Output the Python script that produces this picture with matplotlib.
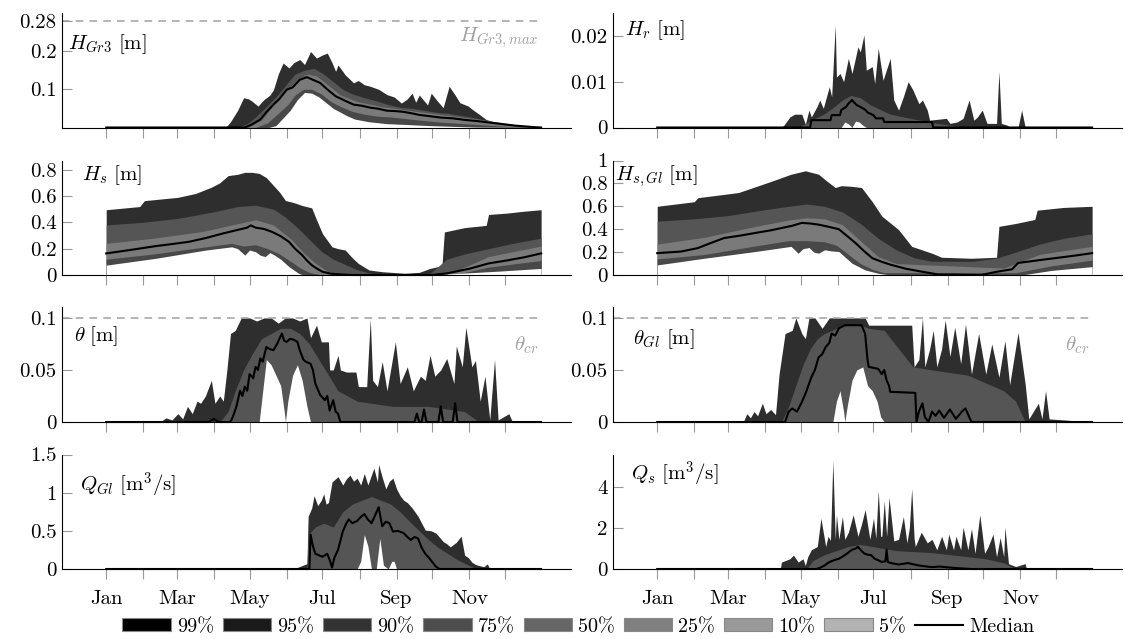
import numpy as np
import matplotlib
matplotlib.use('Agg')
import matplotlib.pyplot as plt
from matplotlib.patches import Patch
from matplotlib.lines import Line2D
from matplotlib.ticker import FuncFormatter

plt.rcParams['font.family'] = 'cmr10'
plt.rcParams['mathtext.fontset'] = 'cm'
plt.rcParams['axes.unicode_minus'] = False

# month starts (day of year) and tick labels
month_days = [0, 31, 59, 90, 120, 151, 181, 212, 243, 273, 304, 334]
month_labels = ['Jan', '', 'Mar', '', 'May', '', 'Jul', '', 'Sep', '', 'Nov', '']

# legend
band_names = ['99%', '95%', '90%', '75%', '50%', '25%', '10%', '5%']
band_colors = ['#000000', '#1a1a1a', '#333333', '#4d4d4d', '#666666', '#808080', '#999999', '#b3b3b3']

# ---- H_Gr3 ----
hgr3_up_day = [0, 100, 104, 110, 115, 119, 122, 127, 132, 137, 140, 144, 148, 153, 157, 162, 166, 171, 176, 181,
               185, 189, 192, 194, 200, 207, 211, 216, 221, 228, 235, 241, 247, 252, 256, 259, 262, 266, 269, 272,
               277, 282, 287, 292, 296, 303, 307, 312, 318, 325, 332, 340, 346, 355, 364]
hgr3_up = [0, 0, 0.015, 0.045, 0.078, 0.075, 0.069, 0.056, 0.073, 0.085, 0.099, 0.14, 0.169, 0.156, 0.17, 0.178,
           0.165, 0.199, 0.182, 0.19, 0.195, 0.17, 0.147, 0.164, 0.138, 0.117, 0.123, 0.112, 0.108, 0.1,
           0.086, 0.08, 0.064, 0.075, 0.09, 0.066, 0.085, 0.07, 0.059, 0.09, 0.07, 0.052, 0.108, 0.085, 0.065,
           0.056, 0.046, 0.035, 0.021, 0.014, 0.008, 0.005, 0.003, 0.001, 0]
hgr3_hi_day = [0, 110, 118, 126, 134, 142, 150, 158, 166, 174, 182, 190, 198, 206, 216, 226, 236, 246, 256, 266,
               276, 286, 296, 306, 316, 326, 336, 346, 356, 364]
hgr3_hi = [0, 0, 0.01, 0.03, 0.055, 0.08, 0.11, 0.14, 0.15, 0.155, 0.14, 0.12, 0.1, 0.088, 0.078, 0.07, 0.06,
           0.053, 0.05, 0.045, 0.04, 0.037, 0.032, 0.027, 0.02, 0.013, 0.008, 0.005, 0.002, 0]
hgr3_core_day = [0, 118, 130, 140, 150, 160, 168, 176, 186, 196, 210, 230, 260, 290, 320, 350, 364]
hgr3_core = [0, 0, 0.02, 0.06, 0.095, 0.125, 0.14, 0.135, 0.11, 0.085, 0.068, 0.055, 0.042, 0.03, 0.018, 0.004, 0]
hgr3_med_day = [0, 116, 122, 129, 134, 140, 145, 151, 156, 162, 168, 173, 179, 185, 192, 200, 207, 214, 221, 228,
                235, 242, 249, 256, 262, 270, 280, 290, 300, 310, 318, 326, 334, 342, 350, 358, 364]
hgr3_med = [0, 0, 0.008, 0.021, 0.04, 0.06, 0.075, 0.099, 0.105, 0.125, 0.132, 0.125, 0.117, 0.1, 0.082, 0.07,
            0.06, 0.057, 0.052, 0.049, 0.044, 0.043, 0.041, 0.037, 0.033, 0.03, 0.026, 0.024, 0.02, 0.017,
            0.014, 0.011, 0.008, 0.005, 0.003, 0.001, 0]
hgr3_loin_day = [0, 125, 135, 145, 152, 158, 165, 172, 180, 188, 196, 206, 216, 226, 240, 260, 280, 300, 320, 340, 364]
hgr3_loin = [0, 0, 0.012, 0.04, 0.06, 0.085, 0.1, 0.1, 0.088, 0.068, 0.055, 0.042, 0.035, 0.03, 0.027, 0.02,
             0.014, 0.01, 0.006, 0.002, 0]
hgr3_lo_day = [0, 136, 142, 148, 154, 160, 166, 172, 178, 184, 190, 196, 202, 208, 220, 235, 250, 270, 290, 310, 364]
hgr3_lo = [0, 0, 0.005, 0.025, 0.045, 0.073, 0.092, 0.09, 0.08, 0.065, 0.05, 0.04, 0.03, 0.022, 0.015, 0.01,
           0.008, 0.005, 0.003, 0.001, 0]

# ---- H_r ----
hr_up_day = [0, 104, 106, 111, 115, 121, 124, 127, 129, 134, 136, 139, 144, 146, 149, 150, 153, 156, 160, 163,
             168, 170, 173, 175, 180, 182, 185, 189, 195, 198, 202, 206, 210, 214, 219, 222, 226, 228, 242, 245,
             251, 256, 261, 265, 268, 272, 276, 284, 286, 288, 293, 295, 302, 305, 308, 364]
hr_up = [0, 0, 0.0005, 0.0023, 0.0029, 0.0029, 0.0007, 0.0038, 0.0023, 0.0047, 0.006, 0.0042, 0.0089, 0.0067,
         0.0224, 0.011, 0.0118, 0.01, 0.0151, 0.0118, 0.0176, 0.0165, 0.0202, 0.0125, 0.0133, 0.0096, 0.0173,
         0.0103, 0.0151, 0.006, 0.0038, 0.0067, 0.01, 0.0082, 0.0052, 0.006, 0.0038, 0.0016, 0.002, 0.0009,
         0.0012, 0.002, 0.006, 0.0016, 0.0023, 0.0038, 0.0009, 0.0009, 0.0122, 0.0009, 0.0005, 0, 0, 0.0038, 0, 0]
hr_hi_day = [0, 118, 125, 132, 140, 148, 155, 162, 170, 178, 186, 194, 202, 212, 222, 232, 245, 260, 364]
hr_hi = [0, 0, 0.001, 0.002, 0.003, 0.0045, 0.006, 0.007, 0.0065, 0.005, 0.004, 0.003, 0.0025, 0.002, 0.0015,
         0.001, 0.0005, 0, 0]
hr_med_day = [0, 128, 129, 145, 146, 153, 154, 158, 160, 163, 165, 167, 170, 174, 176, 181, 183, 189, 190, 195,
              196, 230, 231, 364]
hr_med = [0, 0, 0.0016, 0.0016, 0.0027, 0.0027, 0.0038, 0.0045, 0.0052, 0.006, 0.0054, 0.0049, 0.0045, 0.0039,
          0.0033, 0.0027, 0.002, 0.002, 0.0012, 0.0012, 0.0012, 0.0012, 0, 0]
hr_lo_day = [0, 154, 157, 160, 163, 166, 169, 172, 175, 364]
hr_lo = [0, 0, 0.0012, 0.0008, 0, 0.0014, 0.0012, 0.0005, 0, 0]

# ---- H_s ----
hs_up_day = [0, 28, 32, 60, 75, 88, 95, 102, 110, 116, 122, 128, 134, 139, 145, 150, 157, 164, 172, 176,
             181, 189, 194, 200, 206, 211, 216, 220, 231, 250, 262, 271, 281, 283, 300, 318, 320, 335, 350, 364]
hs_up = [0.496, 0.52, 0.565, 0.59, 0.62, 0.667, 0.7, 0.755, 0.765, 0.78, 0.78, 0.772, 0.74, 0.69, 0.63, 0.566,
         0.55, 0.528, 0.51, 0.42, 0.314, 0.214, 0.2, 0.19, 0.13, 0.088, 0.06, 0.038, 0.025, 0.013,
         0.02, 0.05, 0.07, 0.327, 0.36, 0.377, 0.46, 0.47, 0.485, 0.496]
hs_hi_day = [0, 30, 60, 90, 110, 125, 140, 150, 160, 170, 180, 190, 200, 210, 220, 230, 270, 285, 300, 320, 340, 364]
hs_hi = [0.38, 0.4, 0.43, 0.48, 0.52, 0.53, 0.5, 0.44, 0.36, 0.27, 0.18, 0.12, 0.08, 0.04, 0.015, 0.005,
         0.005, 0.12, 0.16, 0.2, 0.24, 0.28]
hs_core_day = [0, 40, 80, 110, 125, 140, 155, 165, 175, 185, 195, 280, 295, 320, 364]
hs_core = [0.24, 0.28, 0.33, 0.39, 0.42, 0.38, 0.27, 0.17, 0.09, 0.03, 0, 0, 0.04, 0.14, 0.22]
hs_med_day = [0, 20, 41, 55, 69, 83, 97, 111, 118, 121, 125, 132, 139, 146, 153, 158, 164, 168, 172, 177,
              181, 188, 195, 205, 272, 285, 292, 305, 320, 335, 350, 364]
hs_med = [0.164, 0.19, 0.219, 0.235, 0.252, 0.28, 0.314, 0.345, 0.36, 0.377, 0.36, 0.35, 0.327, 0.295, 0.252,
          0.2, 0.151, 0.11, 0.075, 0.045, 0.025, 0.01, 0.005, 0, 0, 0.012, 0.025, 0.05, 0.088, 0.11, 0.135, 0.164]
hs_loin_day = [0, 40, 80, 105, 115, 125, 135, 145, 155, 163, 170, 180, 290, 320, 364]
hs_loin = [0.12, 0.16, 0.21, 0.24, 0.22, 0.23, 0.2, 0.16, 0.1, 0.05, 0.02, 0, 0, 0.06, 0.11]
hs_lo_day = [0, 41, 83, 105, 110, 116, 120, 125, 129, 133, 137, 141, 146, 153, 161, 165, 272, 300, 330, 364]
hs_lo = [0.075, 0.126, 0.189, 0.214, 0.2, 0.151, 0.19, 0.176, 0.15, 0.14, 0.17, 0.15, 0.12, 0.063, 0.013, 0,
         0, 0.015, 0.03, 0.05]

# ---- H_s,Gl ----
hsgl_up_day = [0, 31, 34, 68, 96, 112, 124, 135, 142, 149, 154, 162, 171, 180, 188, 202, 213, 230, 238, 263,
               284, 286, 300, 316, 318, 340, 364]
hsgl_up = [0.6, 0.64, 0.675, 0.72, 0.82, 0.88, 0.91, 0.88, 0.82, 0.764, 0.78, 0.775, 0.764, 0.64, 0.514, 0.396,
           0.25, 0.19, 0.155, 0.146, 0.155, 0.425, 0.45, 0.485, 0.566, 0.59, 0.6]
hsgl_hi_day = [0, 30, 60, 90, 110, 125, 140, 155, 170, 185, 200, 215, 230, 265, 285, 300, 320, 340, 364]
hsgl_hi = [0.47, 0.49, 0.52, 0.57, 0.6, 0.62, 0.6, 0.55, 0.45, 0.32, 0.22, 0.15, 0.12, 0.12, 0.15, 0.2, 0.27,
           0.32, 0.36]
hsgl_core_day = [0, 40, 80, 110, 125, 140, 155, 170, 185, 200, 290, 320, 364]
hsgl_core = [0.27, 0.33, 0.42, 0.48, 0.5, 0.49, 0.44, 0.3, 0.16, 0.1, 0.06, 0.18, 0.25]
hsgl_med_day = [0, 20, 34, 45, 56, 70, 82, 95, 104, 113, 121, 128, 135, 144, 152, 159, 166, 173, 180, 188,
                196, 208, 221, 235, 271, 285, 297, 302, 320, 335, 350, 364]
hsgl_med = [0.191, 0.205, 0.235, 0.28, 0.323, 0.345, 0.367, 0.39, 0.41, 0.43, 0.455, 0.45, 0.44, 0.42, 0.4,
            0.34, 0.279, 0.21, 0.147, 0.115, 0.088, 0.055, 0.03, 0.005, 0, 0.03, 0.05, 0.105, 0.13, 0.15, 0.17, 0.191]
hsgl_loin_day = [0, 40, 80, 110, 125, 140, 150, 160, 170, 180, 190, 300, 330, 364]
hsgl_loin = [0.14, 0.18, 0.25, 0.3, 0.3, 0.29, 0.26, 0.18, 0.1, 0.05, 0.02, 0.02, 0.08, 0.13]
hsgl_lo_day = [0, 40, 82, 112, 118, 122, 127, 131, 135, 140, 146, 152, 163, 174, 185, 195, 305, 330, 364]
hsgl_lo = [0.088, 0.147, 0.205, 0.25, 0.19, 0.23, 0.24, 0.2, 0.19, 0.22, 0.21, 0.205, 0.103, 0.044, 0.015, 0,
           0, 0.04, 0.073]

# ---- theta ----
theta_up_day = [0, 45, 50, 55, 60, 64, 68, 72, 76, 79, 83, 88, 91, 95, 98, 101, 104, 108, 113, 120,
                126, 132, 138, 144, 150, 156, 162, 168, 171, 176, 180, 186, 187, 190, 194, 196, 201, 209, 211, 218,
                221, 223, 227, 231, 235, 242, 246, 252, 257, 263, 267, 271, 275, 280, 285, 291, 293, 298, 301, 306,
                309, 313, 317, 321, 325, 328, 337, 340, 364]
theta_up = [0, 0, 0.004, 0.002, 0.008, 0.003, 0.015, 0.008, 0.02, 0.018, 0.025, 0.04, 0.018, 0.025, 0.02, 0.05,
            0.085, 0.088, 0.1, 0.1, 0.097, 0.1, 0.1, 0.095, 0.1, 0.1, 0.097, 0.1, 0.081, 0.093,
            0.077, 0.077, 0.05, 0.05, 0.064, 0.05, 0.048, 0.048, 0.034, 0.034, 0.099, 0.04, 0.034, 0.058, 0.03,
            0.077, 0.037, 0.053, 0.03, 0.044, 0.04, 0.064, 0.044, 0.05, 0.061, 0.037, 0.073, 0.053, 0.091, 0.053,
            0.059, 0.02, 0.044, 0.002, 0.06, 0.002, 0.008, 0, 0]
theta_hi_day = [0, 95, 102, 108, 115, 122, 130, 138, 146, 154, 162, 170, 178, 186, 194, 210, 240, 270, 300, 312, 364]
theta_hi = [0, 0, 0.01, 0.03, 0.05, 0.065, 0.08, 0.085, 0.09, 0.09, 0.085, 0.075, 0.06, 0.045, 0.03, 0.02,
            0.015, 0.015, 0.01, 0, 0]
theta_med_day = [0, 86, 90, 94, 104, 106, 109, 112, 114, 116, 118, 120, 123, 125, 127, 129, 131, 134, 137, 140,
                 143, 147, 149, 151, 154, 157, 160, 162, 165, 167, 171, 173, 175, 179, 183, 185, 187, 190, 192, 194,
                 196, 258, 260, 262, 264, 266, 268, 278, 280, 282, 290, 292, 294, 364]
theta_med = [0, 0, 0.003, 0, 0, 0.005, 0.015, 0.03, 0.025, 0.034, 0.03, 0.046, 0.042, 0.053, 0.05, 0.061, 0.058,
             0.072, 0.07, 0.069, 0.075, 0.085, 0.078, 0.077, 0.08, 0.079, 0.077, 0.069, 0.06, 0.058, 0.056, 0.05,
             0.037, 0.026, 0.021, 0.025, 0.011, 0.021, 0.01, 0.008, 0, 0, 0.008, 0, 0, 0.012, 0, 0, 0.015, 0,
             0, 0.018, 0, 0]
theta_lo_day = [0, 128, 131, 134, 138, 142, 146, 149, 150, 152, 156, 160, 164, 168, 171, 364]
theta_lo = [0, 0, 0.03, 0.06, 0.055, 0.045, 0.035, 0.01, 0, 0.02, 0.045, 0.055, 0.04, 0.015, 0, 0]

# ---- theta_Gl ----
thgl_up_day = [0, 72, 75, 78, 81, 84, 88, 91, 95, 99, 102, 107, 113, 116, 121, 124, 127, 132, 138, 144,
               150, 156, 162, 168, 174, 177, 195, 213, 215, 219, 222, 224, 228, 231, 234, 238, 241, 245, 249, 254,
               258, 263, 269, 275, 280, 286, 291, 295, 302, 308, 311, 319, 322, 325, 328, 364]
thgl_up = [0, 0, 0.008, 0.004, 0.01, 0.006, 0.018, 0.008, 0.012, 0.007, 0.046, 0.085, 0.088, 0.1, 0.085, 0.08,
           0.1, 0.1, 0.09, 0.1, 0.1, 0.1, 0.1, 0.1, 0.1, 0.093, 0.093, 0.093, 0.053, 0.06,
           0.1, 0.053, 0.07, 0.088, 0.053, 0.07, 0.098, 0.063, 0.091, 0.056, 0.094, 0.046, 0.085, 0.046, 0.075,
           0.043, 0.078, 0.036, 0.086, 0.036, 0.003, 0.018, 0.003, 0.03, 0.003, 0]
thgl_hi_day = [0, 104, 110, 116, 122, 128, 134, 140, 150, 160, 170, 177, 190, 214, 230, 260, 290, 300, 308, 364]
thgl_hi = [0, 0, 0.015, 0.035, 0.055, 0.07, 0.08, 0.085, 0.09, 0.093, 0.093, 0.09, 0.088, 0.053, 0.05, 0.045,
           0.03, 0.02, 0, 0]
thgl_med_day = [0, 107, 110, 113, 117, 121, 125, 129, 132, 135, 138, 141, 144, 146, 149, 152, 157, 171, 174, 176,
                177, 185, 188, 190, 192, 194, 195, 216, 217, 219, 222, 224, 227, 230, 233, 236, 240, 245, 250, 255,
                258, 263, 364]
thgl_med = [0, 0, 0.01, 0.013, 0.01, 0.019, 0.03, 0.043, 0.05, 0.062, 0.065, 0.072, 0.076, 0.085, 0.083, 0.09,
            0.093, 0.093, 0.085, 0.06, 0.053, 0.051, 0.046, 0.05, 0.04, 0.035, 0.029, 0.028, 0, 0.01, 0.018,
            0.005, 0, 0.01, 0.006, 0.011, 0.004, 0.012, 0.003, 0.01, 0.013, 0, 0]
thgl_lo_day = [0, 147, 150, 153, 156, 157, 159, 163, 167, 172, 176, 180, 184, 187, 190, 364]
thgl_lo = [0, 0, 0.02, 0.03, 0.01, 0, 0.015, 0.04, 0.05, 0.053, 0.035, 0.03, 0.02, 0.005, 0, 0]

# ---- Q_Gl ----
qgl_up_day = [0, 140, 143, 150, 160, 168, 169, 172, 174, 177, 180, 182, 184, 186, 189, 194, 198, 201, 204, 207,
              210, 213, 216, 219, 224, 227, 228, 231, 234, 237, 240, 243, 246, 249, 252, 256, 261, 264, 267, 272,
              276, 282, 285, 288, 293, 297, 300, 303, 306, 309, 312, 316, 319, 321, 364]
qgl_up = [0, 0, 0.02, 0.01, 0.02, 0.07, 0.69, 0.8, 0.96, 0.83, 0.9, 0.985, 0.85, 0.87, 1.14, 1.21, 1.1, 1.18,
          1.23, 1.15, 1.19, 1.1, 1.25, 1.1, 1.32, 1.14, 1.37, 1.2, 1.05, 1.15, 1.19, 1.05, 0.96, 0.9, 0.87, 0.8,
          0.69, 0.6, 0.51, 0.5, 0.47, 0.36, 0.33, 0.29, 0.35, 0.43, 0.18, 0.15, 0.09, 0.06, 0.045, 0.03, 0.067, 0, 0]
qgl_hi_day = [0, 168, 169, 175, 182, 190, 198, 206, 214, 222, 230, 238, 246, 254, 262, 270, 278, 286, 294, 302, 310, 364]
qgl_hi = [0, 0, 0.45, 0.55, 0.6, 0.55, 0.75, 0.85, 0.9, 0.95, 0.9, 0.85, 0.75, 0.62, 0.5, 0.38, 0.28, 0.2, 0.12,
          0.06, 0, 0]
qgl_med_day = [0, 170, 171, 173, 175, 178, 181, 185, 187, 189, 191, 194, 198, 201, 203, 206, 210, 213, 216, 219,
               222, 225, 228, 231, 234, 237, 240, 244, 249, 252, 255, 258, 261, 264, 267, 270, 273, 276, 279, 364]
qgl_med = [0, 0, 0.45, 0.3, 0.2, 0.18, 0.16, 0.2, 0.12, 0.02, 0.15, 0.25, 0.49, 0.6, 0.65, 0.6, 0.63, 0.68, 0.72,
           0.65, 0.6, 0.7, 0.81, 0.56, 0.62, 0.6, 0.49, 0.5, 0.47, 0.42, 0.38, 0.42, 0.4, 0.28, 0.2, 0.15, 0.09,
           0.03, 0, 0]
qgl_lo_day = [0, 210, 213, 216, 219, 222, 226, 229, 232, 236, 239, 241, 243, 364]
qgl_lo = [0, 0, 0.1, 0.45, 0.3, 0, 0, 0.4, 0.05, 0, 0.1, 0.1, 0, 0]

# ---- Q_s ----
qs_up_day = [0, 103, 104, 108, 111, 114, 118, 122, 124, 126, 129, 134, 137, 141, 143, 145, 147, 149, 150, 152,
             155, 157, 160, 164, 168, 171, 174, 178, 181, 183, 185, 187, 188, 190, 192, 194, 198, 202, 206, 209,
             211, 213, 215, 216, 221, 226, 230, 234, 238, 242, 244, 248, 250, 254, 256, 260, 263, 266, 270, 274,
             277, 281, 284, 287, 290, 291, 294, 300, 308, 309, 364]
qs_up = [0, 0, 0.34, 0.43, 0.5, 0.68, 0.34, 0.5, 0.17, 0.6, 0.94, 1.1, 2.48, 1.1, 1.6, 1.4, 5.3, 1.45, 2.65, 1.45,
         2.56, 1.45, 1.8, 2.65, 1.6, 2.2, 2.9, 1.45, 2.48, 1.5, 3.85, 1.6, 1.6, 3.33, 1.6, 3.5, 1.37, 1.45, 2.56,
         1.28, 2.0, 3.93, 1.5, 1.1, 1.8, 1.28, 1.45, 0.94, 1.6, 0.94, 1.7, 0.94, 1.6, 0.94, 2.05, 0.94, 1.97, 0.77,
         2.65, 0.77, 1.1, 1.7, 0.6, 1.54, 0.6, 2.05, 0.26, 0.12, 0.26, 0, 0]
qs_hi_day = [0, 125, 130, 140, 150, 160, 170, 180, 190, 200, 215, 230, 245, 260, 275, 290, 300, 364]
qs_hi = [0, 0, 0.4, 0.7, 0.9, 1.1, 1.2, 1.1, 1.0, 0.9, 0.85, 0.8, 0.7, 0.6, 0.5, 0.3, 0, 0]
qs_med_day = [0, 133, 136, 140, 143, 146, 149, 152, 155, 157, 160, 163, 166, 168, 170, 173, 176, 179, 182, 185,
              188, 191, 192, 193, 195, 202, 210, 219, 230, 236, 249, 263, 364]
qs_med = [0, 0, 0.05, 0.17, 0.3, 0.39, 0.45, 0.5, 0.6, 0.68, 0.8, 0.94, 1.0, 1.08, 0.95, 0.77, 0.7, 0.68, 0.5,
          0.43, 0.34, 0.38, 0.94, 0.34, 0.3, 0.22, 0.29, 0.17, 0.09, 0.12, 0.05, 0, 0]

c_dark = '#2e2e2e'
c_mid = '#555555'
c_core = '#7a7a7a'
c_low = '#484848'
c_gray = '#a0a0a0'

panels = [
    dict(label=r'$H_{Gr3}\ [\mathrm{m}]$', lpos=(0.012, 0.73), ylim=0.3, yticks=[0.1, 0.2, 0.28],
         up=(hgr3_up_day, hgr3_up), hi=(hgr3_hi_day, hgr3_hi), core=(hgr3_core_day, hgr3_core),
         med=(hgr3_med_day, hgr3_med), loin=(hgr3_loin_day, hgr3_loin), lo=(hgr3_lo_day, hgr3_lo),
         thr=0.28, thr_label=r'$H_{Gr3,max}$', thr_y=0.235),
    dict(label=r'$H_r\ [\mathrm{m}]$', lpos=(0.024, 0.85), ylim=0.025, yticks=[0, 0.01, 0.02],
         up=(hr_up_day, hr_up), hi=(hr_hi_day, hr_hi), med=(hr_med_day, hr_med), lo=(hr_lo_day, hr_lo)),
    dict(label=r'$H_s\ [\mathrm{m}]$', lpos=(0.04, 0.87), ylim=0.87, yticks=[0, 0.2, 0.4, 0.6, 0.8],
         up=(hs_up_day, hs_up), hi=(hs_hi_day, hs_hi), core=(hs_core_day, hs_core), med=(hs_med_day, hs_med),
         loin=(hs_loin_day, hs_loin), lo=(hs_lo_day, hs_lo)),
    dict(label=r'$H_{s,Gl}\ [\mathrm{m}]$', lpos=(0.004, 0.86), ylim=1.0, yticks=[0, 0.2, 0.4, 0.6, 0.8, 1],
         up=(hsgl_up_day, hsgl_up), hi=(hsgl_hi_day, hsgl_hi), core=(hsgl_core_day, hsgl_core),
         med=(hsgl_med_day, hsgl_med), loin=(hsgl_loin_day, hsgl_loin), lo=(hsgl_lo_day, hsgl_lo)),
    dict(label=r'$\theta\ [\mathrm{m}]$', lpos=(0.024, 0.75), ylim=0.11, yticks=[0, 0.05, 0.1],
         up=(theta_up_day, theta_up), hi=(theta_hi_day, theta_hi), med=(theta_med_day, theta_med),
         lo=(theta_lo_day, theta_lo), thr=0.1, thr_label=r'$\theta_{cr}$', thr_y=0.074),
    dict(label=r'$\theta_{Gl}\ [\mathrm{m}]$', lpos=(0.04, 0.72), ylim=0.11, yticks=[0, 0.05, 0.1],
         up=(thgl_up_day, thgl_up), hi=(thgl_hi_day, thgl_hi), med=(thgl_med_day, thgl_med),
         lo=(thgl_lo_day, thgl_lo), thr=0.1, thr_label=r'$\theta_{cr}$', thr_y=0.074),
    dict(label=r'$Q_{Gl}\ [\mathrm{m}^3/\mathrm{s}]$', lpos=(0.035, 0.73), ylim=1.5, yticks=[0, 0.5, 1, 1.5],
         up=(qgl_up_day, qgl_up), hi=(qgl_hi_day, qgl_hi), med=(qgl_med_day, qgl_med), lo=(qgl_lo_day, qgl_lo)),
    dict(label=r'$Q_s\ [\mathrm{m}^3/\mathrm{s}]$', lpos=(0.035, 0.83), ylim=5.6, yticks=[0, 2, 4],
         up=(qs_up_day, qs_up), hi=(qs_hi_day, qs_hi), med=(qs_med_day, qs_med)),
]

fig = plt.figure(figsize=(11.25, 6.39), dpi=100)
col_x = [62 / 1125, 613 / 1125]
row_y = [(639 - 127.5) / 639, (639 - 275) / 639, (639 - 422) / 639, (639 - 569) / 639]
w, h = 509 / 1125, 114.5 / 639
fmt = FuncFormatter(lambda v, p: f'{v:g}')

for i, p in enumerate(panels):
    r, c = divmod(i, 2)
    ax = fig.add_axes([col_x[c], row_y[r], w, h])
    ax.fill_between(*p['up'], color=c_dark, lw=0)
    ax.fill_between(*p['hi'], color=c_mid, lw=0)
    if 'core' in p:
        ax.fill_between(*p['core'], color=c_core, lw=0)
    if 'loin' in p:
        ax.fill_between(*p['loin'], color=c_low, lw=0)
    if 'lo' in p:
        ax.fill_between(*p['lo'], color='white', lw=0)
    ax.plot(*p['med'], color='black', lw=1.5, clip_on=False, zorder=4)

    if 'thr' in p:
        ax.axhline(p['thr'], xmax=0.94, color=c_gray, lw=1.1, ls=(0, (5, 4)), zorder=1)
        ax.text(362, p['thr_y'], p['thr_label'], color=c_gray, fontsize=15, ha='right', va='center')

    ax.text(p['lpos'][0], p['lpos'][1], p['label'], transform=ax.transAxes, fontsize=15,
            ha='left', va='center')

    ax.set_xlim(-37, 389)
    ax.set_ylim(0, p['ylim'])
    ax.set_xticks(month_days)
    ax.set_xticklabels(month_labels if r == 3 else [])
    ax.set_yticks(p['yticks'])
    ax.yaxis.set_major_formatter(fmt)
    ax.tick_params(axis='x', direction='out', length=7, width=0.8, color='#999999', labelsize=15, pad=8)
    ax.tick_params(axis='y', direction='in', length=7, width=0.8, color='#999999', labelsize=15, pad=4)
    for s in ['top', 'right']:
        ax.spines[s].set_visible(False)
    for s in ['left', 'bottom']:
        ax.spines[s].set_linewidth(0.8)

handles = [Patch(facecolor=col, edgecolor='#888888', lw=0.8) for col in band_colors]
handles.append(Line2D([0], [0], color='black', lw=1.5))
fig.legend(handles, band_names + ['Median'], loc='center', bbox_to_anchor=(0.514, 0.019), ncol=9,
           frameon=False, fontsize=14.5, handlelength=2.4, handleheight=0.65, handletextpad=0.3,
           columnspacing=0.45, borderaxespad=0)

fig.savefig('out.png', dpi=100)
